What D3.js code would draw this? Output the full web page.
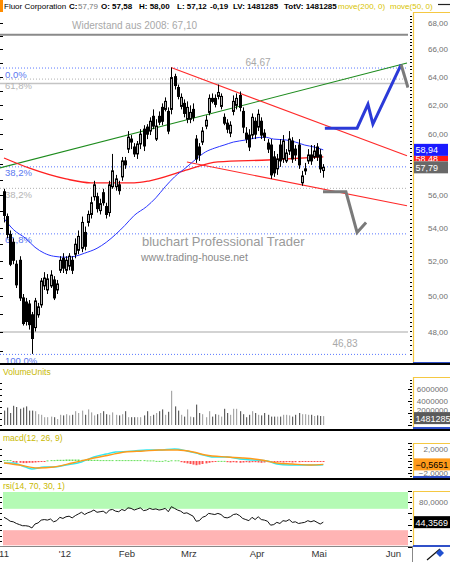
<!DOCTYPE html>
<html><head><meta charset="utf-8">
<script src="https://cdn.jsdelivr.net/npm/d3@7"></script>
<style>
body{margin:0;background:#fff;}
svg{display:block;font-family:"Liberation Sans",Arial,sans-serif;}
</style></head><body>
<svg id="c" width="450" height="562"></svg>
<script>
// ---------- DATA ----------
const open = [56.22,54.67,53.58,53.11,51.81,52.04,49.88,49.65,49.54,48.94, 48.24,48.94,49.49,50.56,50.33,50.56,50.90,50.33,51.46,52.16, 51.46,51.70,52.04,52.40,52.63,52.75,53.70,54.31,54.80,55.91, 55.91,55.04,56.16,55.29,54.92,56.54,56.54,56.66,57.17,58.21, 58.99,59.66,59.13,58.67,59.33,60.33,60.47,60.20,61.21,59.66, 61.21,61.83,61.69,61.55,61.69,64.01,63.23,61.90,62.11,61.01, 61.01,61.69,59.66,59.13,59.46,60.54,61.48,62.46,62.46,62.60, 61.90,61.14,60.74,60.06,61.55,61.97,62.67,61.55,60.06,59.93, 59.93,60.87,60.47,60.87,60.06,59.39,59.26,58.47,57.69,59.26, 58.34,58.21,58.86,59.53,58.99,59.26,56.79,57.56,58.21,58.60, 58.47,59.13,58.60,57.58];
const high = [56.41,54.86,53.82,53.34,52.04,52.28,50.10,49.88,49.76,49.10, 49.88,49.60,51.01,51.35,51.24,51.46,51.12,50.90,52.28,52.46, 52.28,52.46,52.28,53.34,53.82,54.67,54.06,55.04,55.91,56.92, 56.16,55.78,56.41,55.53,56.92,58.67,57.30,56.92,58.47,58.47, 60.20,59.93,59.39,59.53,60.33,60.60,60.67,61.14,61.69,61.01, 61.55,62.11,62.53,61.83,64.67,64.22,63.44,62.81,62.39,62.25, 61.97,62.11,59.93,59.39,60.47,61.28,62.74,62.81,62.74,63.44, 62.81,61.41,61.01,60.87,62.67,62.81,62.95,61.83,60.47,60.33, 61.41,61.14,61.69,61.14,60.33,59.66,59.66,58.86,58.67,59.66, 59.93,58.99,60.20,59.79,59.26,59.66,57.56,58.08,58.99,59.26, 59.26,59.39,58.99,58.00];
const low = [54.31,53.34,51.70,51.81,50.44,49.71,48.35,48.35,48.13,46.83, 48.03,48.78,49.33,50.33,50.10,50.44,49.76,50.10,51.30,51.30, 51.24,51.46,51.24,52.16,52.40,52.52,52.63,54.06,54.55,55.66, 54.92,54.80,55.35,54.55,54.67,56.41,56.29,56.04,56.92,57.69, 58.73,58.99,58.47,58.34,58.99,58.86,59.66,59.93,60.33,59.53, 60.60,60.60,61.55,59.99,61.35,63.09,62.39,61.69,61.14,60.74, 60.74,60.87,58.08,58.21,59.26,60.33,61.28,62.11,61.83,62.39, 61.69,60.60,60.06,59.79,61.28,61.69,61.55,60.06,59.39,58.86, 59.66,59.66,60.20,59.66,59.53,58.73,57.04,57.17,57.30,57.82, 58.08,58.08,58.60,58.08,58.21,57.69,56.60,57.30,58.01,57.95, 58.34,58.21,57.43,57.12];
const close = [54.74,53.58,51.81,52.04,50.62,49.88,48.46,48.57,48.40,47.65, 49.71,49.38,50.84,51.01,50.96,51.18,49.88,50.67,52.04,51.58, 52.04,52.28,51.46,52.99,53.46,54.31,52.87,54.80,55.53,56.66, 55.16,55.47,55.53,54.80,56.66,57.56,57.04,56.29,58.21,57.95, 59.79,59.46,58.67,59.33,59.99,59.20,59.99,60.87,60.54,60.54, 60.81,60.87,62.25,60.20,63.94,63.37,62.60,62.53,61.41,61.83, 61.48,61.14,58.34,58.60,60.20,60.94,62.46,62.25,62.04,62.88, 62.60,60.74,60.33,60.60,62.25,62.46,61.83,60.47,59.66,59.13, 61.14,59.99,61.35,59.93,59.79,58.99,57.30,57.43,58.34,58.21, 59.53,58.73,59.66,58.34,58.60,57.95,57.23,57.69,58.60,58.21, 58.86,58.47,57.69,57.79];
const volume = [2.4,2.9,2.0,3.2,3.0,2.7,2.9,3.1,2.4,2.4, 2.3,1.8,1.7,1.3,1.3,1.4,1.3,1.0,1.7,1.6, 1.8,1.6,1.7,2.3,2.0,2.4,1.7,2.6,2.1,1.6, 1.8,2.0,2.3,1.8,1.7,2.1,1.7,1.6,1.8,2.3, 1.3,1.3,1.3,1.3,1.3,1.6,2.3,1.5,1.7,2.0, 2.3,2.6,1.7,2.2,5.7,3.1,2.4,1.7,1.4,2.6, 1.4,1.3,3.4,2.0,1.8,1.3,2.3,1.4,1.8,1.7, 1.4,2.7,2.0,1.7,2.7,2.7,2.3,1.8,1.3,1.7, 2.3,2.0,1.7,1.6,2.0,1.7,1.4,1.4,1.4,1.4, 1.7,1.7,1.6,1.4,1.7,2.0,1.8,1.8,1.7,1.7, 1.5,1.6,1.5,1.481285];
const ma50Idx = [0,3,7,10,13,16,20,23,26,30,33,36,39,42,46,49,52,55,59,62,65,68,71,74,78,81,84,87,91,94,97,100,103];
const ma50Val = [54.55,53.88,53.34,52.81,52.46,52.28,52.22,52.28,52.46,52.75,53.11,53.58,54.13,54.74,55.29,55.84,56.54,57.17,57.82,58.34,58.80,59.06,59.26,59.46,59.60,59.73,59.79,59.66,59.60,59.46,59.26,59.13,58.94];
const ma200Idx = [0,8,20,28,42,47,58,69,85,103];
const ma200Val = [58.40,57.75,57.04,56.79,56.79,56.92,57.56,58.14,58.27,58.48];
const macdIdx = [0,3,6,9,13,16,20,25,29,33,36,42,46,50,55,59,63,67,72,76,80,85,88,92,95,99,103];
const macdVal = [-0.33,-0.33,-0.83,-1.33,-1.0,-1.0,-0.67,-0.17,0.67,1.17,1.5,1.67,1.83,1.83,2.0,1.67,1.17,0.67,0.67,0.33,0.17,0.0,-0.5,-0.67,-0.67,-0.67,-0.62];
const sigIdx = [0,5,11,16,22,29,34,39,45,50,56,61,65,72,77,83,88,93,99,103];
const sigVal = [-0.33,-0.67,-1.17,-1.0,-0.33,0.5,1.0,1.5,1.67,1.83,1.83,1.5,1.0,0.67,0.5,0.17,-0.33,-0.5,-0.67,-0.5651];
const hist = [0.15,0.15,0.15, -0.25,-0.3,-0.3,-0.35,-0.35,-0.3,-0.3,-0.25,-0.2,-0.15,-0.1,
 0.1,0.15,0.15,0.2,0.2,0.2,0.25,0.25,0.25,0.25, 0.25,0.2,0.2,0.2,0.2,0.2,0.2,0.15,0.15,0.15, 0.15,0.15,0.15,0.15,0.15,0.15,0.15,0.15,0.15,0.15, 0.15,0.15,0.1,0.1,0.1,
 0.02,0.02,0.02, 0.12, 0.02, 0.12,0.12,0.12,
 -0.2,-0.3,-0.4,-0.5,-0.6,-0.7,-0.6,-0.5,-0.4,-0.3,-0.2,-0.1,
 0.02,0.02,0.02,
 -0.2,-0.25,-0.2,-0.25,-0.3,-0.25,-0.2,-0.25,-0.2,-0.2,-0.25,-0.3,-0.25,-0.2,-0.2,-0.25,-0.2,-0.2,-0.25,-0.2,-0.2,-0.25,-0.2,-0.2,-0.15,-0.15,-0.15,
 -0.05,-0.05,-0.05,-0.05,-0.05];
const rsi = [53,50,46,45,42,40,38,38,37,34, 41,43,48,49,48,50,45,47,53,51, 54,55,52,56,59,62,58,61,63,66, 62,63,64,60,66,67,64,63,67,65, 70,69,66,68,70,65,66,69,67,68, 66,67,69,63,72,69,66,64,60,61, 58,55,46,47,53,55,60,59,58,60, 58,53,52,54,58,59,56,51,49,47, 53,49,54,49,48,46,39,40,44,42, 47,46,49,44,45,42,43,44,47,45, 47,44,41,44.3569];
// drawings (trend lines, levels, scenarios) in [bar index, price]
const greenLine = [[-1.3,57.75],[130,65.0]];
const redUpper = [[53.9,64.67],[130,58.55]];
const redLower = [[59,58.14],[130,55.34]];
const resistance = 67.10;
const fibBlue = [64.67,57.855,53.645,46.83];
const fibBlueLbl = ["0,0%","38,2%","61,8%","100,0%"];
const fibGray = [63.87,56.47];
const fibGrayLbl = ["61,8%","38,2%"];
const grayLevels = [63.52,48.00];
const blueArrowIdx = [103.5,113.9,117.4,119.0,128.1];
const blueArrowVal = [60.40,60.40,62.04,60.67,64.88];
const grayArrowIdx = [102.9,110.3,113.9,116.8];
const grayArrowVal = [56.22,56.22,53.70,54.31];
const grayTopIdx = [128.1,130.3];
const grayTopVal = [64.88,63.23];
const priceTicks = [48,50,52,54,56,58,60,62,64,66,68];
const volTicks = [2,4,6];
const macdTicks = [-2,2];
const rsiTicks = [80];
const monthIdx = [-0.65,19,39,59,81,101,125];
const monthLbl = ["11","'12","Feb","Mrz","Apr","Mai","Jun"];
const lastClose = 57.79, lastVol = 1481285;

// ---------- SCALES ----------
const svg = d3.select('#c');
const x = d3.scaleLinear().domain([0,130]).range([4,407]);
const yP = d3.scaleLog().domain([48,68]).range([332,23]);
const yV = d3.scaleLinear().domain([0,6]).range([425,389]);
const yM = d3.scaleLinear().domain([-2,2]).range([473,449]);
const yR = d3.scaleLinear().domain([0,100]).range([547,491]);
const fmt2 = v => d3.format(".2f")(v).replace('.',',');
const fmt4 = v => d3.format(".4f")(v).replace('.',',');
const AXX = 413;

const defs = svg.append('defs');
defs.append('clipPath').attr('id','mc').append('rect').attr('x',0).attr('y',12).attr('width',409).attr('height',351);

// ---------- HEADER ----------
svg.append('rect').attr('x',0).attr('y',0).attr('width',3).attr('height',12).attr('fill','#ff8c00');
const hdr = [
 ["Fluor Corporation",4,"#000",400],["C:",69,"#000",700],["57,79",78,"#777",400],
 ["O: 57,58",101,"#000",700],["H: 58,00",139,"#000",700],["L: 57,12",177,"#000",700],
 ["-0,19",210,"#000",700],["LV: 1481285",233,"#000",700],["TotV: 1481285",284,"#000",700],
 ["move(200, 0)",338,"#d8c400",400],["move(50, 0)",390,"#d8c400",400]];
hdr.forEach(h=>svg.append('text').attr('x',h[1]).attr('y',9).attr('font-size',8).attr('fill',h[2]).attr('font-weight',h[3]).text(h[0]));
svg.append('line').attr('x1',438).attr('x2',450).attr('y1',4.5).attr('y2',4.5).attr('stroke','#222').attr('stroke-width',1.2);

// ---------- MAIN PANEL ----------
const g = svg.append('g').attr('clip-path','url(#mc)');
g.append('line').attr('x1',0).attr('x2',408).attr('y1',yP(resistance)).attr('y2',yP(resistance)).attr('stroke','#8a8a8a').attr('stroke-width',2);
g.append('text').attr('x',72).attr('y',yP(resistance)-6).attr('font-size',10).attr('fill','#a8a8a8').text('Widerstand aus 2008: '+fmt2(resistance));
grayLevels.forEach(v=>g.append('line').attr('x1',0).attr('x2',408).attr('y1',yP(v)).attr('y2',yP(v)).attr('stroke','#c4c4c4').attr('stroke-width',1.6));
fibGray.forEach((v,k)=>{
 g.append('line').attr('x1',0).attr('x2',408).attr('y1',yP(v)+0.5).attr('y2',yP(v)+0.5).attr('stroke','#b0b0b0').attr('stroke-dasharray','1,2');
 g.append('text').attr('x',5).attr('y',yP(v)+10.5).attr('font-size',9.5).attr('fill','#b4b4b4').text(fibGrayLbl[k]);
});
fibBlue.forEach((v,k)=>{
 g.append('line').attr('x1',0).attr('x2',408).attr('y1',yP(v)+0.5).attr('y2',yP(v)+0.5).attr('stroke','#5a78ff').attr('stroke-dasharray','1,2');
 g.append('text').attr('x',5).attr('y',yP(v)+10).attr('font-size',9.5).attr('fill','#5a78f0').text(fibBlueLbl[k]);
});
g.append('text').attr('x',258).attr('y',yP(fibBlue[0])-2).attr('font-size',10).attr('fill','#a8a8a8').attr('text-anchor','middle').text(fmt2(fibBlue[0]));
g.append('text').attr('x',345).attr('y',yP(grayLevels[1])+15).attr('font-size',10).attr('fill','#a8a8a8').attr('text-anchor','middle').text(fmt2(fibBlue[3]));
g.append('text').attr('x',142).attr('y',246).attr('font-size',13).attr('fill','#9a9a9a').text('bluchart Professional Trader');
g.append('text').attr('x',141).attr('y',261).attr('font-size',10.5).attr('fill','#8a8a8a').text('www.trading-house.net');
const seg=(pts,col,w)=>g.append('line').attr('x1',x(pts[0][0])).attr('y1',yP(pts[0][1])).attr('x2',x(pts[1][0])).attr('y2',yP(pts[1][1])).attr('stroke',col).attr('stroke-width',w);
seg(greenLine,'#1e8c1e',1.1);
seg(redUpper,'#ff2a2a',1.1);
seg(redLower,'#ff2a2a',1.1);
const lineGen = (idx,val)=>d3.line().curve(d3.curveMonotoneX).x((d,i)=>x(idx[i])).y(d=>yP(d))(val);
g.append('path').attr('d',lineGen(ma200Idx,ma200Val)).attr('fill','none').attr('stroke','#ff2020').attr('stroke-width',1.3);
g.append('path').attr('d',lineGen(ma50Idx,ma50Val)).attr('fill','none').attr('stroke','#2a35ff').attr('stroke-width',1);
const idx = d3.range(close.length);
idx.forEach(i=>{
 const cx = Math.round(x(i));
 g.append('line').attr('x1',cx+0.5).attr('x2',cx+0.5).attr('y1',yP(high[i])).attr('y2',yP(low[i])).attr('stroke','#000');
 const top=yP(Math.max(open[i],close[i])), bot=yP(Math.min(open[i],close[i]));
 const up = close[i]>=open[i];
 g.append('rect').attr('x',cx-0.5).attr('y',top).attr('width',2).attr('height',Math.max(1,bot-top))
  .attr('fill',up?'#b4b4b4':'#000').attr('stroke','#000').attr('stroke-width',1);
});
const pl = (ix,vl)=>d3.line().x((d,i)=>x(ix[i])).y(d=>yP(d))(vl);
g.append('path').attr('d',pl(grayArrowIdx,grayArrowVal)).attr('fill','none').attr('stroke','#7a7a7a').attr('stroke-width',3);
g.append('path').attr('d',pl(blueArrowIdx,blueArrowVal)).attr('fill','none').attr('stroke','#2b3ad8').attr('stroke-width',3);
g.append('path').attr('d',pl(grayTopIdx,grayTopVal)).attr('fill','none').attr('stroke','#7a7a7a').attr('stroke-width',3);
d3.range(47,69).forEach(p=>svg.append('line').attr('x1',0).attr('x2',3).attr('y1',Math.round(yP(p))+0.5).attr('y2',Math.round(yP(p))+0.5).attr('stroke','#000'));

// ---------- RIGHT AXIS helpers ----------
function axisBox(y0,y1){
 svg.append('line').attr('x1',AXX+0.5).attr('x2',AXX+0.5).attr('y1',y0).attr('y2',y1).attr('stroke','#f5c842').attr('stroke-width',1.2);
 svg.append('line').attr('x1',AXX).attr('x2',450).attr('y1',y0+0.5).attr('y2',y0+0.5).attr('stroke','#f5c842').attr('stroke-width',1.2);
 svg.append('line').attr('x1',AXX).attr('x2',450).attr('y1',y1).attr('y2',y1).attr('stroke','#3050c8').attr('stroke-width',2);
}
function minorTicks(ys){ ys.forEach(([yy,len])=>svg.append('line').attr('x1',412-len).attr('x2',412).attr('y1',Math.round(yy)+0.5).attr('y2',Math.round(yy)+0.5).attr('stroke','#000')); }
function valBox(yy,txt,bg,fg,w,clipId){
 const gg = svg.append('g');
 if(clipId) gg.attr('clip-path','url(#'+clipId+')');
 gg.append('rect').attr('x',AXX+1).attr('y',yy-6).attr('width',w||34).attr('height',12).attr('fill',bg);
 gg.append('text').attr('x',AXX+2.5).attr('y',yy+3.5).attr('font-size',9).attr('fill',fg).text(txt);
}
const axLbl=(yy,t)=>svg.append('text').attr('x',448).attr('y',yy+3).attr('font-size',8).attr('fill','#707070').attr('text-anchor','end').text(t);

axisBox(12,363);
minorTicks(d3.range(46.8,68.6,0.25).map(p=>[yP(p), Math.abs(p-Math.round(p))<0.01?4:2]));
priceTicks.forEach(p=>axLbl(yP(p),fmt2(p)));
// red box only visible between blue and gray boxes
const yBlue = yP(ma50Val[ma50Val.length-1]), yGray = yP(lastClose), yRed = yP(ma200Val[ma200Val.length-1])+2;
defs.append('clipPath').attr('id','redclip').append('rect').attr('x',AXX).attr('y',yBlue+6).attr('width',40).attr('height',Math.max(0,(yGray-6)-(yBlue+6)));
valBox(yRed,fmt2(ma200Val[ma200Val.length-1]),'#ff1a1a','#fff',34,'redclip');
valBox(yBlue,fmt2(ma50Val[ma50Val.length-1]),'#1a1aff','#fff');
valBox(yGray,fmt2(lastClose),'#686868','#fff');

[364,430,479].forEach(yy=>svg.append('line').attr('x1',0).attr('x2',450).attr('y1',yy).attr('y2',yy).attr('stroke','#000').attr('stroke-width',2));

// ---------- VOLUME ----------
svg.append('text').attr('x',3).attr('y',375).attr('font-size',8.5).attr('fill','#c8b800').text('VolumeUnits');
idx.forEach(i=>{
 const up = close[i]>=open[i];
 svg.append('rect').attr('x',Math.round(x(i))).attr('y',yV(volume[i])).attr('width',1.2).attr('height',yV(0)-yV(volume[i])).attr('fill',up?'#a8a8a8':'#606060');
});
d3.range(0,7.5,1).forEach(v=>svg.append('line').attr('x1',0).attr('x2',2).attr('y1',Math.round(yV(v))+0.5).attr('y2',Math.round(yV(v))+0.5).attr('stroke','#000'));
axisBox(377,428);
minorTicks(d3.range(0,8.6,0.5).map(v=>[yV(v), v%2===0?4:2]).filter(d=>d[0]>378));
volTicks.forEach(v=>axLbl(yV(v)-(v===2?3:0),String(v*1000000)));
valBox(yV(lastVol/1e6)+2,String(lastVol),'#5a5a5a','#fff',36);

// ---------- MACD ----------
svg.append('text').attr('x',3).attr('y',441).attr('font-size',8.5).attr('fill','#c8b800').text('macd(12, 26, 9)');
hist.forEach((h,i)=>{
 const y0=yM(0), y1=yM(h);
 svg.append('rect').attr('x',Math.round(x(i))-0.5).attr('y',Math.min(y0,y1)).attr('width',2).attr('height',Math.max(1,Math.abs(y1-y0))).attr('fill',h>=0?'#66e05a':'#ff5050');
});
const mline=(ix,vl)=>d3.line().curve(d3.curveMonotoneX).x((d,i)=>x(ix[i])).y(d=>yM(d))(vl);
svg.append('path').attr('d',mline(macdIdx,macdVal)).attr('fill','none').attr('stroke','#30e8f0').attr('stroke-width',1.4);
svg.append('path').attr('d',mline(sigIdx,sigVal)).attr('fill','none').attr('stroke','#ff9a1a').attr('stroke-width',1.4);
d3.range(-2,3,1).forEach(v=>svg.append('line').attr('x1',0).attr('x2',2).attr('y1',Math.round(yM(v))+0.5).attr('y2',Math.round(yM(v))+0.5).attr('stroke','#000'));
axisBox(443,477);
minorTicks(d3.range(-2.5,3.01,0.5).map(v=>[yM(v), Number.isInteger(v)?4:2]));
macdTicks.forEach(v=>axLbl(yM(v),fmt4(v)));
valBox(yM(sigVal[sigVal.length-1]),fmt4(sigVal[sigVal.length-1]),'#ff9a1a','#000',36);

// ---------- RSI ----------
svg.append('text').attr('x',3).attr('y',489).attr('font-size',8.5).attr('fill','#c8b800').text('rsi(14, 70, 30, 1)');
svg.append('rect').attr('x',3).attr('y',yR(100)+1).attr('width',405).attr('height',yR(70)-yR(100)).attr('fill','#b4fab4');
svg.append('rect').attr('x',3).attr('y',yR(30)).attr('width',405).attr('height',yR(3)-yR(30)).attr('fill','#ffb4b4');
svg.append('path').attr('d',d3.line().x((d,i)=>x(i)).y(d=>yR(d))(rsi)).attr('fill','none').attr('stroke','#111').attr('stroke-width',1);
d3.range(10,100,10).forEach(v=>svg.append('line').attr('x1',0).attr('x2',2).attr('y1',Math.round(yR(v))+0.5).attr('y2',Math.round(yR(v))+0.5).attr('stroke','#000'));
axisBox(491,546);
minorTicks(d3.range(0,101,10).map(v=>[yR(v), v%20===0?4:2]));
rsiTicks.forEach(v=>axLbl(yR(v),fmt4(v)));
valBox(yR(rsi[rsi.length-1]),fmt4(rsi[rsi.length-1]),'#000','#fff',36);

// ---------- X AXIS ----------
svg.append('line').attr('x1',0).attr('x2',413).attr('y1',546.5).attr('y2',546.5).attr('stroke','#888');
svg.append('line').attr('x1',412.5).attr('x2',412.5).attr('y1',546).attr('y2',562).attr('stroke','#888');
monthIdx.forEach((m,k)=>svg.append('text').attr('x',x(m)+2).attr('y',557).attr('font-size',9.5).attr('fill','#333').attr('text-anchor','middle').text(monthLbl[k]));
svg.append('line').attr('x1',427).attr('y1',560).attr('x2',440).attr('y2',549).attr('stroke','#111').attr('stroke-width',1.2);
svg.append('path').attr('d','M436,553 L440,549 L444,553 L440,557 Z').attr('fill','#2050d0');
</script>
</body></html>
